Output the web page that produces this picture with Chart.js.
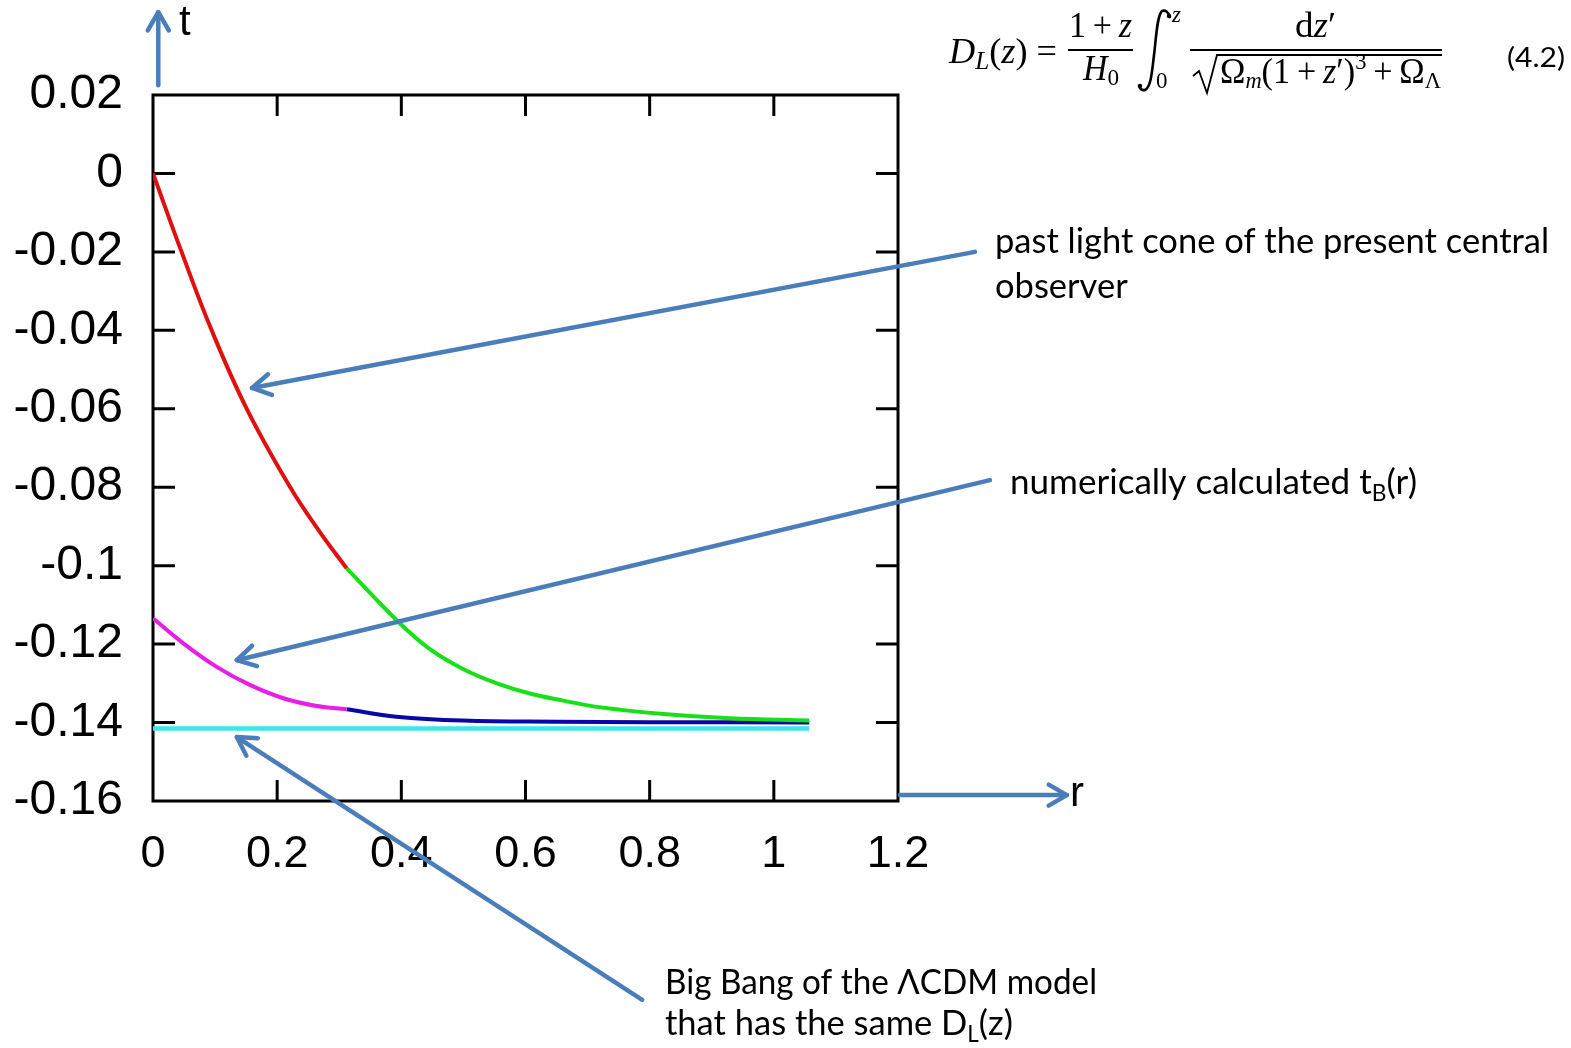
<!DOCTYPE html>
<html><head><meta charset="utf-8">
<script src="https://cdn.jsdelivr.net/npm/chart.js@4.4.1/dist/chart.umd.min.js"></script>
<style>html,body{margin:0;padding:0;background:#fff;overflow:hidden}canvas{display:block}</style>
</head><body>
<canvas id="c" width="1571" height="1048"></canvas>
<script>
// ---- tick values ----
const xTicks = [0, 0.2, 0.4, 0.6, 0.8, 1, 1.2];
const yTicks = [0.02, 0, -0.02, -0.04, -0.06, -0.08, -0.1, -0.12, -0.14, -0.16];

// ---- past light cone (red part, then green part) ----
const coneRedR   = [0, 0.046, 0.0945, 0.151, 0.221, 0.27, 0.312];
const coneRedT   = [0, -0.02, -0.04, -0.06, -0.08, -0.0917, -0.1007];
const coneGreenR = [0.312, 0.395, 0.446, 0.500, 0.554, 0.607, 0.661, 0.715, 0.822, 0.929, 1.057];
const coneGreenT = [-0.1007, -0.1143, -0.1213, -0.1264, -0.1300, -0.1326, -0.1344, -0.1360, -0.1378, -0.1389, -0.1395];

// ---- numerically calculated tB(r) (magenta part, then blue part) ----
const tbMagR = [0, 0.0488, 0.1026, 0.156, 0.21, 0.264, 0.312];
const tbMagT = [-0.1134, -0.1198, -0.1258, -0.1304, -0.1338, -0.1358, -0.1366];
const tbBlueR = [0.312, 0.392, 0.499, 0.65, 0.8, 1.057];
const tbBlueT = [-0.1366, -0.1385, -0.1395, -0.1398, -0.1399, -0.1400];

// ---- Big Bang of the LCDM model ----
const bbR = [0, 1.057];
const bbT = [-0.1415, -0.1415];

// ---- annotation arrows in data coordinates [r0, t0, r1(tip), t1(tip)] ----
const arrowCone = [1.324, -0.0200, 0.1595, -0.0547];
const arrowTB   = [1.348, -0.0782, 0.135, -0.1241];
const arrowBB   = [0.788, -0.2107, 0.135, -0.1437];
const arrowTaxis = [0.0085, 0.0225, 0.0085, 0.0411];
const arrowRaxis = [1.203, -0.1585, 1.472, -0.1585];

const pts = (r, t) => r.map((v, i) => ({x: v, y: t[i]}));
const fmt = v => { const n = parseFloat(Number(v).toFixed(2)); return (n === 0 ? 0 : n).toString(); };

const lineDs = (label, r, t, color, w) => ({
  label, data: pts(r, t), showLine: true, borderColor: color, backgroundColor: color,
  borderWidth: w, pointRadius: 0, pointHoverRadius: 0, fill: false,
  tension: 0.4, borderCapStyle: 'butt'
});

const BLUE = '#4a7ebb';
function arrow(ctx, x1, y1, x2, y2) {
  ctx.save();
  ctx.strokeStyle = BLUE; ctx.lineWidth = 4.5; ctx.lineCap = 'round'; ctx.lineJoin = 'round';
  ctx.beginPath(); ctx.moveTo(x1, y1); ctx.lineTo(x2, y2); ctx.stroke();
  const a = Math.atan2(y2 - y1, x2 - x1), L = 21, s = Math.PI / 6;
  ctx.beginPath();
  ctx.moveTo(x2 - L * Math.cos(a - s), y2 - L * Math.sin(a - s));
  ctx.lineTo(x2, y2);
  ctx.lineTo(x2 - L * Math.cos(a + s), y2 - L * Math.sin(a + s));
  ctx.stroke();
  ctx.restore();
}
function seq(ctx, parts, x0, base, target) {
  let w = 0;
  for (const p of parts) { ctx.font = p.f; w += ctx.measureText(p.t).width + (p.g || 0); }
  const k = target ? target / w : 1;
  ctx.save(); ctx.translate(x0, base); ctx.scale(k, 1);
  ctx.textAlign = 'left'; ctx.textBaseline = 'alphabetic'; ctx.fillStyle = '#000';
  let x = 0;
  for (const p of parts) { ctx.font = p.f; ctx.fillText(p.t, x, p.dy || 0); x += ctx.measureText(p.t).width + (p.g || 0); }
  ctx.restore();
}
function fitFont(ctx, text, family, target) {
  ctx.font = '40px ' + family;
  return 40 * target / ctx.measureText(text).width;
}

const deco = {
  id: 'deco',
  beforeDatasetsDraw(chart) {
    const {ctx, chartArea: a, scales: {x, y}} = chart;
    ctx.save();
    ctx.strokeStyle = '#000'; ctx.lineWidth = 3;
    ctx.strokeRect(a.left, a.top, a.right - a.left, a.bottom - a.top);
    ctx.beginPath();
    xTicks.slice(1, -1).forEach(v => {
      const px = x.getPixelForValue(v);
      ctx.moveTo(px, a.bottom); ctx.lineTo(px, a.bottom - 21);
      ctx.moveTo(px, a.top); ctx.lineTo(px, a.top + 21);
    });
    yTicks.slice(1, -1).forEach(v => {
      const py = y.getPixelForValue(v);
      ctx.moveTo(a.left, py); ctx.lineTo(a.left + 22, py);
      ctx.moveTo(a.right, py); ctx.lineTo(a.right - 22, py);
    });
    ctx.stroke();
    ctx.restore();
  },
  afterDraw(chart) {
    const {ctx, scales: {x, y}} = chart;
    const P = (arr) => [x.getPixelForValue(arr[0]), y.getPixelForValue(arr[1]), x.getPixelForValue(arr[2]), y.getPixelForValue(arr[3])];
    [arrowCone, arrowTB, arrowBB, arrowTaxis, arrowRaxis].forEach(a => arrow(ctx, ...P(a)));

    // axis names
    ctx.save();
    ctx.fillStyle = '#000'; ctx.textBaseline = 'alphabetic'; ctx.textAlign = 'left';
    ctx.font = '42px "Liberation Sans"';
    ctx.fillText('t', 179, 35);
    ctx.fillText('r', 1070, 806);
    ctx.restore();

    // annotation texts
    const fam = 'Lato';
    const fs = fitFont(ctx, 'past light cone of the present central', fam, 554);
    const F = s => s.toFixed(1) + 'px ' + fam;
    const fsub = fs * 0.65;
    seq(ctx, [{t: 'past light cone of the present central', f: F(fs)}], 995, 253);
    seq(ctx, [{t: 'observer', f: F(fs)}], 995, 298);
    seq(ctx, [{t: 'numerically calculated t', f: F(fs)}, {t: 'B', f: F(fsub), dy: 7}, {t: '(r)', f: F(fs)}], 1010, 494, 407);
    seq(ctx, [{t: 'Big Bang of the \u039BCDM model', f: F(fs)}], 665, 994, 432);
    seq(ctx, [{t: 'that has the same D', f: F(fs)}, {t: 'L', f: F(fsub), dy: 7}, {t: '(z)', f: F(fs)}], 665, 1035);

    // equation number
    seq(ctx, [{t: '(4.2)', f: '27px ' + fam}], 1507, 67, 58);

    // formula
    const S = '"Liberation Serif"';
    const it = n => 'italic ' + n + 'px ' + S, rm = n => n + 'px ' + S;
    seq(ctx, [{t: 'D', f: it(36)}, {t: 'L', f: it(25), dy: 6}, {t: '(', f: rm(36)}, {t: 'z', f: it(36)}, {t: ')', f: rm(36), g: 9}, {t: '=', f: rm(36)}], 949, 63, 108);
    seq(ctx, [{t: '1', f: rm(35), g: 7}, {t: '+', f: rm(35), g: 7}, {t: 'z', f: it(35)}], 1069, 37, 63);
    seq(ctx, [{t: 'H', f: it(35)}, {t: '0', f: rm(24), dy: 5}], 1083, 80, 36);
    seq(ctx, [{t: 'z', f: it(23)}], 1172, 22);
    seq(ctx, [{t: '0', f: rm(23)}], 1156, 88);
    seq(ctx, [{t: 'd', f: rm(35)}, {t: 'z', f: it(35)}, {t: '\u2032', f: rm(35)}], 1295, 37, 41);
    seq(ctx, [{t: '\u03A9', f: rm(35)}, {t: 'm', f: it(23), dy: 5}, {t: '(', f: rm(35)}, {t: '1', f: rm(35), g: 7},
              {t: '+', f: rm(35), g: 7}, {t: 'z', f: it(35)}, {t: '\u2032', f: rm(35)}, {t: ')', f: rm(35)},
              {t: '3', f: rm(23), dy: -14, g: 7}, {t: '+', f: rm(35), g: 7}, {t: '\u03A9', f: rm(35)}, {t: '\u039B', f: rm(23), dy: 5}],
        1220, 83, 221);
    ctx.save();
    ctx.strokeStyle = '#000'; ctx.lineWidth = 1.8; ctx.lineJoin = 'miter';
    ctx.beginPath(); ctx.moveTo(1068, 50); ctx.lineTo(1133, 50); ctx.moveTo(1190, 50); ctx.lineTo(1442, 50); ctx.stroke();
    ctx.beginPath(); ctx.moveTo(1193, 76); ctx.lineTo(1199, 71); ctx.lineTo(1207, 93); ctx.lineTo(1217, 55); ctx.lineTo(1442, 55); ctx.stroke();
    ctx.lineWidth = 2.6; ctx.lineCap = 'round';
    ctx.beginPath();
    ctx.moveTo(1170, 17);
    ctx.quadraticCurveTo(1167, 9, 1162, 11);
    ctx.bezierCurveTo(1157, 15, 1156, 40, 1154, 55);
    ctx.bezierCurveTo(1152, 72, 1151, 87, 1145, 90);
    ctx.quadraticCurveTo(1141, 91, 1139, 86);
    ctx.stroke();
    ctx.fillStyle = '#000';
    ctx.beginPath(); ctx.arc(1169, 16, 2.2, 0, 7); ctx.fill();
    ctx.beginPath(); ctx.arc(1140, 86, 2.2, 0, 7); ctx.fill();
    ctx.restore();
  }
};

new Chart(document.getElementById('c'), {
  type: 'scatter',
  data: {
    datasets: [
      lineDs('past light cone (red)', coneRedR, coneRedT, '#e01010', 4),
      lineDs('past light cone (green)', coneGreenR, coneGreenT, '#18e018', 4),
      lineDs('tB(r) (magenta)', tbMagR, tbMagT, '#e61ee6', 4),
      lineDs('tB(r) (blue)', tbBlueR, tbBlueT, '#0808a8', 4),
      lineDs('Big Bang LCDM', bbR, bbT, '#40e4ea', 4.5)
    ]
  },
  options: {
    responsive: false, animation: false,
    layout: {padding: {left: 0, top: 95, right: 673, bottom: 147}},
    plugins: {legend: {display: false}, tooltip: {enabled: false}},
    scales: {
      x: {
        type: 'linear', min: 0, max: 1.2,
        afterBuildTicks: s => { s.ticks = xTicks.map(v => ({value: v})); },
        afterFit: s => { s.height = 100; },
        grid: {display: false, drawTicks: false}, border: {display: false},
        ticks: {font: {family: 'Liberation Sans', size: 45}, color: '#000', padding: 27, maxRotation: 0, autoSkip: false, callback: v => fmt(v)}
      },
      y: {
        type: 'linear', min: -0.16, max: 0.02,
        afterBuildTicks: s => { s.ticks = yTicks.map(v => ({value: v})); },
        afterFit: s => { s.width = 153; },
        grid: {display: false, drawTicks: false}, border: {display: false},
        ticks: {font: {family: 'Liberation Sans', size: 48}, color: '#000', padding: 30, autoSkip: false, callback: v => fmt(v)}
      }
    }
  },
  plugins: [deco]
});
</script>
</body></html>
